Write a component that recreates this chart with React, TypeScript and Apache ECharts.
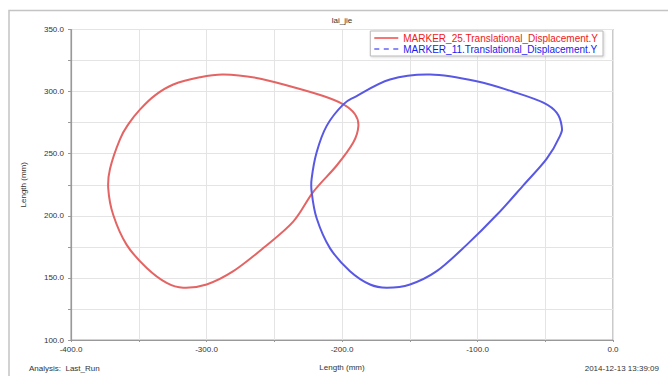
import React, { useEffect, useRef } from "react";
import * as echarts from "echarts";

const chartTitle = "lai_jie";
const axisName = "Length (mm)";
const footLeft = "Analysis:  Last_Run";
const footRight = "2014-12-13 13:39:09";
const seriesNames = [
  "MARKER_25.Translational_Displacement.Y",
  "MARKER_11.Translational_Displacement.Y",
];

// red loop: [x, y] in mm (closed curve)
const redLoop: [number, number][] = [
  [-287.6, 313.7], [-305, 311.5], [-324.5, 305.7], [-338, 297], [-349, 285.7], [-357.5, 274],
  [-363.8, 261.8], [-371.2, 237.9], [-372.5, 221.9], [-368.8, 200.6], [-358.9, 176.6], [-344.1, 158],
  [-329.4, 146], [-317.1, 142.1], [-299.9, 144.7], [-280.2, 155.4], [-258.1, 174],
  [-236, 195.3], [-221.2, 219.3], [-203.9, 240.5], [-191.6, 259.2], [-187.9, 272.4],
  [-190.4, 281.8], [-199, 289.7], [-213.8, 296.4], [-238.4, 304.3], [-263, 311],
];

// blue loop: [x, y] in mm (closed curve)
const blueLoop: [number, number][] = [
  [-135, 313.7], [-164.6, 309.7], [-189.2, 296.4], [-199, 289.7], [-211.3, 272.4],
  [-218.7, 251.2], [-222.4, 229.9], [-222.4, 219.3], [-218.7, 198], [-208.9, 174],
  [-194.1, 155.4], [-179.3, 144.7], [-167, 142.1], [-149.8, 144.7], [-130.1, 155.4],
  [-108, 176.6], [-85.9, 200.6], [-66.2, 224.5], [-49, 245.8], [-39.1, 264.4],
  [-37.9, 272.4], [-41.6, 283.1], [-51.4, 291.1], [-71.1, 299], [-100.6, 308.3],
];

const xRange = [-400, 0];
const yRange = [100, 350];

function loopRenderer(loop: [number, number][], color: string) {
  return (params: any, api: any) => {
    if (params.dataIndex !== 0) return null;
    const pts = loop.map((p) => api.coord(p) as number[]);
    const n = pts.length;
    const g = (i: number) => pts[((i % n) + n) % n];
    let d = `M${pts[0][0]},${pts[0][1]}`;
    for (let i = 0; i < n; i++) {
      const p0 = g(i - 1), p1 = g(i), p2 = g(i + 1), p3 = g(i + 2);
      const c1x = p1[0] + (p2[0] - p0[0]) / 6;
      const c1y = p1[1] + (p2[1] - p0[1]) / 6;
      const c2x = p2[0] - (p3[0] - p1[0]) / 6;
      const c2y = p2[1] - (p3[1] - p1[1]) / 6;
      d += `C${c1x},${c1y},${c2x},${c2y},${p2[0]},${p2[1]}`;
    }
    d += "Z";
    return {
      type: "path",
      shape: { pathData: d },
      style: { fill: "none", stroke: color, lineWidth: 2 },
      silent: true,
    };
  };
}

export default function App() {
  const ref = useRef<HTMLDivElement>(null);
  useEffect(() => {
    document.body.style.margin = "0";
    if (!ref.current) return;
    const chart = echarts.init(ref.current, null, { renderer: "svg" });
    const font = "'Liberation Sans', Arial, sans-serif";
    chart.setOption({
      animation: false,
      backgroundColor: "#ffffff",
      textStyle: { fontFamily: font },
      grid: {
        left: 71,
        right: 55,
        top: 29.5,
        bottom: 33.3,
        show: true,
        borderColor: "#a8a8a8",
        borderWidth: 1.2,
      },
      legend: {
        orient: "vertical",
        right: 65,
        top: 31,
        backgroundColor: "#ffffff",
        borderColor: "#b8b8b8",
        borderWidth: 1,
        padding: [2, 5, 2, 4],
        itemGap: 1,
        itemWidth: 24,
        itemHeight: 10,
        textStyle: { fontSize: 10, fontFamily: font },
        shadowColor: "rgba(0,0,0,0.15)",
        shadowBlur: 2,
        shadowOffsetX: 1,
        shadowOffsetY: 1,
        data: [
          {
            name: seriesNames[0],
            icon: "path://M0,4L24,4L24,5.2L0,5.2Z",
            itemStyle: { color: "#f01818" },
            textStyle: { color: "#f01818" },
          },
          {
            name: seriesNames[1],
            icon: "path://M0,4h5v1.2h-5zM9.5,4h5v1.2h-5zM19,4h5v1.2h-5z",
            itemStyle: { color: "#1a1aee" },
            textStyle: { color: "#1a1aee" },
          },
        ],
      },
      xAxis: {
        type: "value",
        min: xRange[0],
        max: xRange[1],
        interval: 50,
        name: axisName,
        nameLocation: "middle",
        nameGap: 23,
        nameTextStyle: { fontSize: 8, color: "#333" },
        axisLine: { show: true, onZero: false, lineStyle: { color: "#999", width: 1.2 } },
        axisTick: { show: true, length: 2, inside: false, lineStyle: { color: "#999" } },
        axisLabel: {
          fontSize: 8,
          color: "#333",
          margin: 5,
          formatter: (v: number) => (Math.round(v) % 100 === 0 ? v.toFixed(1) : ""),
        },
        splitLine: { show: true, lineStyle: { color: "#e4e4e4", width: 1 } },
      },
      yAxis: {
        type: "value",
        min: yRange[0],
        max: yRange[1],
        interval: 25,
        name: axisName,
        nameLocation: "middle",
        nameGap: 44,
        nameTextStyle: { fontSize: 8, color: "#333" },
        axisLine: { show: true, onZero: false, lineStyle: { color: "#999", width: 1.2 } },
        axisTick: { show: true, length: 3, lineStyle: { color: "#999" } },
        axisLabel: {
          fontSize: 8,
          color: "#333",
          margin: 7,
          formatter: (v: number) => (Math.round(v) % 50 === 0 ? v.toFixed(1) : ""),
        },
        splitLine: { show: true, lineStyle: { color: "#e4e4e4", width: 1 } },
      },
      graphic: [
        {
          type: "rect",
          shape: { x: 9, y: 10.5, width: 700, height: 400 },
          style: { fill: "none", stroke: "#c4c4c4", lineWidth: 1.5 },
          silent: true,
        },
        {
          type: "text",
          x: 342,
          y: 20,
          style: { text: chartTitle, fontSize: 8, fill: "#333", align: "center", verticalAlign: "middle", fontFamily: font },
        },
        {
          type: "text",
          x: 29,
          y: 368,
          style: { text: footLeft, fontSize: 8, fill: "#333", align: "left", verticalAlign: "middle", fontFamily: font },
        },
        {
          type: "text",
          x: 659,
          y: 368,
          style: { text: footRight, fontSize: 8, fill: "#333", align: "right", verticalAlign: "middle", fontFamily: font },
        },
      ],
      series: [
        {
          name: seriesNames[0],
          type: "custom",
          coordinateSystem: "cartesian2d",
          data: redLoop,
          encode: { x: 0, y: 1 },
          renderItem: loopRenderer(redLoop, "#e46464"),
          itemStyle: { color: "#e46464" },
        },
        {
          name: seriesNames[1],
          type: "custom",
          coordinateSystem: "cartesian2d",
          data: blueLoop,
          encode: { x: 0, y: 1 },
          renderItem: loopRenderer(blueLoop, "#5858e4"),
          itemStyle: { color: "#5858e4" },
        },
      ],
    });
    return () => chart.dispose();
  }, []);
  return <div ref={ref} style={{ width: 668, height: 376 }} />;
}
